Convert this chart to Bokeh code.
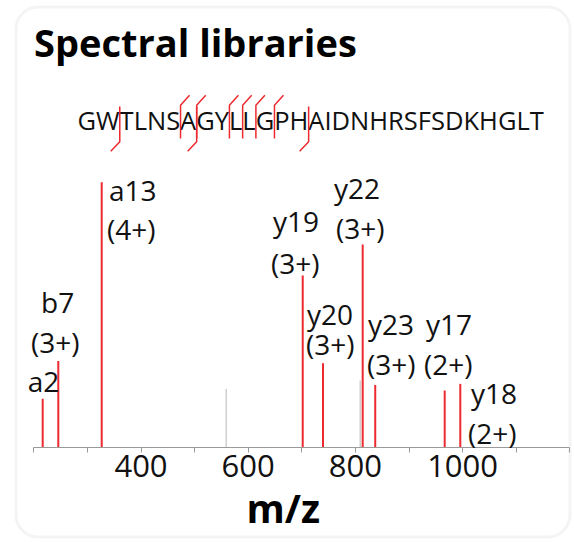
from bokeh.plotting import figure
from bokeh.models import Range1d, FixedTicker, Label, BoxAnnotation
from bokeh.models import ColumnDataSource
from bokeh.embed import file_html
from bokeh.resources import INLINE
from bokeh.core.properties import value

# ---------------- data ----------------
title_text = "Spectral libraries"
sequence = "GWTLNSAGYLLGPHAIDNHRSFSDKHGLT"
n_term_cuts = [2, 7, 14]             # cleavage after residue i (hook below)
c_term_cuts = [6, 7, 9, 10, 11, 12]  # cleavage after residue i (hook above)

ion_names = ["a2", "b7", "a13", "y19", "y20", "y22", "y23", "y17", "y18"]
ion_charges = ["", "(3+)", "(4+)", "(3+)", "(3+)", "(3+)", "(3+)", "(2+)", "(2+)"]
ion_mz = [216.6, 245.7, 326.7, 701.7, 739.6, 813.6, 837.0, 966.6, 995.7]
ion_intensity = [18.3, 32.5, 100.0, 64.8, 31.7, 76.5, 23.5, 21.4, 23.9]

other_mz = [559.0, 809.0]
other_intensity = [22.0, 25.2]

major_ticks = [400, 600, 800, 1000]
minor_ticks = [200, 300, 500, 700, 900, 1100, 1200]
axis_bounds = (200, 1200)
x_label = "m/z"

# ---------------- layout ----------------
W, H = 572, 540
PX_PER_MZ = 0.536
PX_PER_INT = 2.65
X0_PX, BASE_PX = 33.3, 446.7
x_start = 200 - X0_PX / PX_PER_MZ
x_end = x_start + W / PX_PER_MZ
y_end = BASE_PX / PX_PER_INT
y_start = -(H - BASE_PX) / PX_PER_INT

RED = "#ec2a2f"
GRAY_PEAK = "#cfcfcf"
TXT = "#111111"
BASELINE_FIX = 0.4   # em; renderer puts the alphabetic baseline this much lower

LBL_FS = 28
# label offsets (px): name left / baseline above peak top; charge likewise
name_dx = [-15, -17.3, 7.3, -29.7, -16, -28.7, -7.3, -18.7, 10.7]
name_dy = [6.6, 47.4, -19, 43.3, 37.7, 45.7, 49.3, 55, -20]
charge_dx = [0, -27.3, 5.3, -31.7, -17, -26.7, -8.3, -20.7, 7.7]
charge_dy = [0, 7.4, -58, 1.6, 7.7, 5.7, 9.3, 15, -60]

p = figure(width=W, height=H, output_backend="svg", toolbar_location=None,
           x_range=Range1d(x_start, x_end), y_range=Range1d(y_start, y_end),
           y_axis_location=None, min_border=0, outline_line_color=None)
p.grid.visible = False
p.extra_x_ranges = {"px": Range1d(0, W)}
p.extra_y_ranges = {"px": Range1d(H, 0)}

# border box
p.add_layout(BoxAnnotation(left=15.5, right=569.5, top=6.5, bottom=536.5,
                           left_units="canvas", right_units="canvas",
                           top_units="canvas", bottom_units="canvas",
                           fill_color=None, line_color="#dcdcdc", line_width=3,
                           border_radius=22, level="underlay"))

# peaks
other_src = ColumnDataSource(dict(x=other_mz, y=other_intensity))
p.segment(x0="x", y0=0, x1="x", y1="y", source=other_src,
          line_color=GRAY_PEAK, line_width=1.5)
ion_src = ColumnDataSource(dict(x=ion_mz, y=ion_intensity))
p.segment(x0="x", y0=0, x1="x", y1="y", source=ion_src,
          line_color=RED, line_width=2)

# peak labels
fix = BASELINE_FIX * LBL_FS
for i in range(len(ion_names)):
    p.add_layout(Label(x=ion_mz[i], y=ion_intensity[i], text=ion_names[i],
                       x_offset=name_dx[i], y_offset=name_dy[i] + fix,
                       text_font="Open Sans", text_font_size=f"{LBL_FS}px",
                       text_color=TXT, text_baseline="alphabetic",
                       text_align="left"))
    if ion_charges[i]:
        p.add_layout(Label(x=ion_mz[i], y=ion_intensity[i], text=ion_charges[i],
                           x_offset=charge_dx[i], y_offset=charge_dy[i] + fix,
                           text_font="Open Sans", text_font_size=f"{LBL_FS}px",
                           text_color=TXT, text_baseline="alphabetic",
                           text_align="left"))

# axis drawn at intensity 0
ax = p.xaxis[0]
ax.fixed_location = 0
ax.bounds = axis_bounds
ax.ticker = FixedTicker(ticks=major_ticks, minor_ticks=minor_ticks)
ax.axis_line_color = "#9a9a9a"
ax.major_tick_line_color = "#9a9a9a"
ax.minor_tick_line_color = "#9a9a9a"
ax.major_tick_in = 0
ax.major_tick_out = 5
ax.minor_tick_in = 0
ax.minor_tick_out = 5
ax.major_label_text_font = "Open Sans"
ax.major_label_text_font_size = "31px"
ax.major_label_text_color = TXT
ax.major_label_standoff = 3

# title, sequence, axis label (pixel coordinates, y downward)
def put_text(x, y, s, fs, bold=False, color=TXT):
    p.text(x=[x], y=[y - BASELINE_FIX * fs], text=[s],
           x_range_name="px", y_range_name="px",
           text_font=value("Open Sans"), text_font_style="bold" if bold else "normal",
           text_font_size=f"{fs}px", text_color=color, text_baseline="alphabetic")

put_text(33.5, 56.7, title_text, 38, bold=True, color="#000000")
SEQ_X, SEQ_Y, SEQ_FS = 77, 129.7, 25.5
put_text(SEQ_X, SEQ_Y, sequence, SEQ_FS)
put_text(246, 523, x_label, 39, bold=True, color="#000000")

# cleavage marks: positions from Open Sans advance widths
ADV = dict(A=.633, B=.648, C=.631, D=.729, E=.556, F=.516, G=.728, H=.738,
           I=.279, K=.614, L=.519, M=.907, N=.762, P=.602, Q=.779, R=.618,
           S=.549, T=.553, V=.593, W=.930, Y=.556)
cum = [0.0]
for ch in sequence:
    cum.append(cum[-1] + ADV[ch] * SEQ_FS)
xs, ys = [], []
for k in c_term_cuts:
    cx = SEQ_X + cum[k]
    xs.append([cx + 9, cx, cx])
    ys.append([94.7, 104.7, 138])
for k in n_term_cuts:
    cx = SEQ_X + cum[k]
    xs.append([cx, cx, cx - 9])
    ys.append([106, 141.3, 150.7])
p.multi_line(xs=xs, ys=ys, x_range_name="px", y_range_name="px",
             line_color=RED, line_width=1.5)

open("out.html", "w").write(file_html(p, INLINE))
